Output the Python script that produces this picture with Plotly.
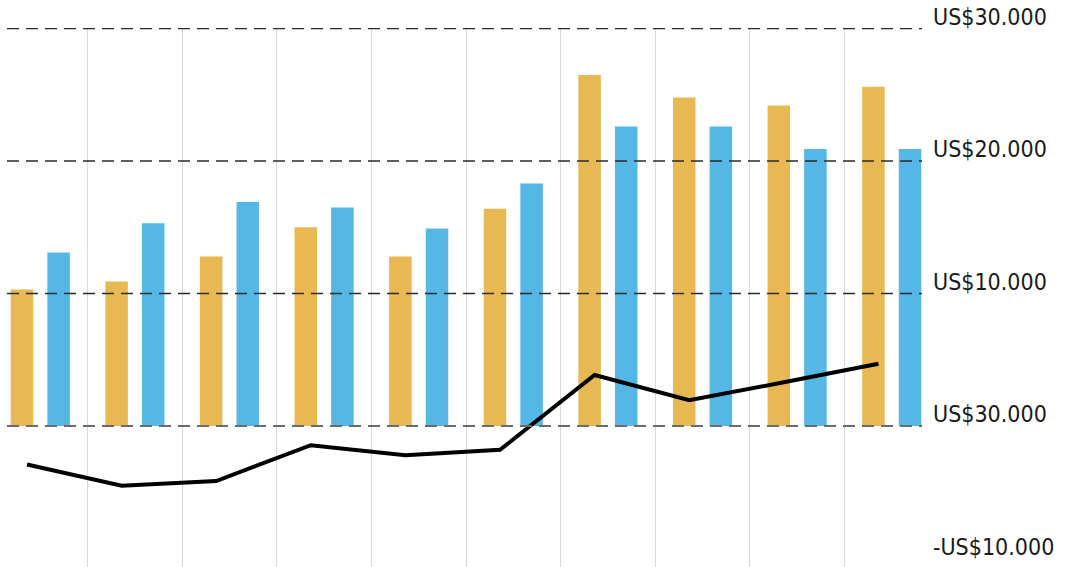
import plotly.graph_objects as go

# ---- data ----
groups = list(range(10))
orange_vals = [10300, 10900, 12800, 15000, 12800, 16400, 26500, 24800, 24200, 25600]
blue_vals = [13100, 15300, 16900, 16500, 14900, 18300, 22600, 22600, 20900, 20900]
line_vals = [-2900, -4500, -4150, -1450, -2200, -1800, 3850, 1950, 3300, 4700]
tick_vals = [30000, 20000, 10000, 0, -10000]
tick_text = ["US$30.000", "US$20.000", "US$10.000", "US$30.000", "-US$10.000"]

ORANGE = "#E8B952"
BLUE = "#54B7E6"
FONT = "DejaVu Sans Condensed, Liberation Sans Narrow, sans-serif"

fig = go.Figure()
fig.add_trace(go.Bar(x=groups, y=orange_vals, marker=dict(color=ORANGE, line=dict(width=0)),
                     name="a", showlegend=False))
fig.add_trace(go.Bar(x=groups, y=blue_vals, marker=dict(color=BLUE, line=dict(width=0)),
                     name="b", showlegend=False))
fig.add_trace(go.Scatter(x=groups, y=line_vals, mode="lines", xaxis="x2",
                         line=dict(color="#000000", width=4), showlegend=False))

shapes = []
for v in tick_vals:
    if v < -5000:
        continue
    zero = v == 0
    shapes.append(dict(type="line", xref="paper", x0=0, x1=1, yref="y", y0=v, y1=v,
                       layer="above",
                       line=dict(color="#6b6b6b" if zero else "#2a2a2a",
                                 width=2 if zero else 1.5, dash="12px,7px")))

r0 = -0.352
r1 = 9.320
fig.update_layout(
    width=1080, height=567,
    margin=dict(l=7, r=158, t=28, b=0, autoexpand=False),
    paper_bgcolor="white", plot_bgcolor="white",
    barmode="group", bargap=0.226, bargroupgap=0.385,
    xaxis=dict(range=[r0, r1], tickvals=[g + 0.5 for g in groups[:-1]],
               showticklabels=False, showgrid=True, gridcolor="#d9d9d9", gridwidth=1,
               zeroline=False, showline=False, ticks="", automargin=False),
    xaxis2=dict(range=[r0 + 0.1406, r1 + 0.1406], overlaying="x", visible=False),
    yaxis=dict(range=[-10640, 30040], side="right", tickvals=tick_vals, ticktext=tick_text,
               showgrid=False, zeroline=False, showline=False, ticks="",
               ticklabelstandoff=10, ticklabelshift=-12, automargin=False,
               tickfont=dict(family=FONT, size=23, color="#1a1a1a")),
    shapes=shapes,
)

fig.write_html("out.html", config={"displayModeBar": False},
               post_script="document.body.style.margin='0px';")
